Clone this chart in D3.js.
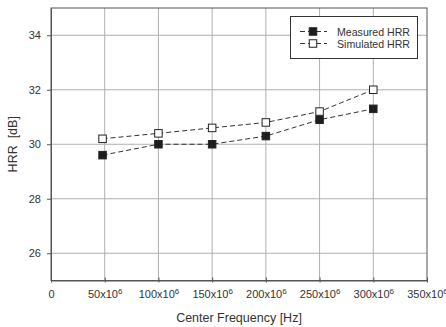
<!DOCTYPE html>
<html><head><meta charset="utf-8">
<script src="https://cdn.jsdelivr.net/npm/d3@7"></script>
<style>body{margin:0;background:#fff}svg{display:block}text{font-family:"Liberation Sans",Arial,sans-serif;fill:#333}</style>
</head><body><svg id="c" width="446" height="327"></svg>
<script>
const freq = [48, 100, 150, 200, 250, 300];
const measured = [29.6, 30.0, 30.0, 30.3, 30.9, 31.3];
const simulated = [30.2, 30.4, 30.6, 30.8, 31.2, 32.0];
const xTicks = [0, 50, 100, 150, 200, 250, 300, 350];
const yTicks = [26, 28, 30, 32, 34];
const seriesNames = ["Measured HRR", "Simulated HRR"];

const svg = d3.select("#c");
const m = {l: 51, r: 427, t: 8, b: 280.5};
const x = d3.scaleLinear().domain([0, 350]).range([m.l, m.r]);
const y = d3.scaleLinear().domain([25, 35]).range([m.b, m.t]);

// grid
const g = svg.append("g");
g.selectAll(".vg").data(xTicks.slice(1, -1)).join("line")
  .attr("x1", d => x(d)).attr("x2", d => x(d)).attr("y1", m.t).attr("y2", m.b)
  .attr("stroke", "#b0b0b0").attr("stroke-width", 1);
g.selectAll(".hg").data(yTicks).join("line")
  .attr("y1", d => y(d)).attr("y2", d => y(d)).attr("x1", m.l).attr("x2", m.r)
  .attr("stroke", "#b0b0b0").attr("stroke-width", 1);
// frame
svg.append("rect").attr("x", m.l).attr("y", m.t).attr("width", m.r - m.l).attr("height", m.b - m.t)
  .attr("fill", "none").attr("stroke", "#555").attr("stroke-width", 1);

// axes
const xAxis = d3.axisBottom(x).tickValues(xTicks).tickSizeInner(3).tickSizeOuter(0).tickPadding(7)
  .tickFormat(() => "");
const xa = svg.append("g").attr("transform", `translate(0,${m.b})`).call(xAxis);
xa.select(".domain").attr("stroke", "#555");
xa.selectAll(".tick line").attr("stroke", "#555").attr("y1", -3).attr("y2", 2);
xa.selectAll(".tick").each(function(d) {
  const t = d3.select(this).append("text").attr("y", 17).attr("text-anchor", "middle")
    .attr("font-size", 11).attr("fill", "#333");
  if (d === 0) { t.text("0"); }
  else {
    t.append("tspan").text(d + "x10");
    t.append("tspan").text("6").attr("font-size", 8).attr("dy", -4);
  }
});

const yAxis = d3.axisLeft(y).tickValues(yTicks).tickSizeInner(4).tickSizeOuter(0).tickPadding(6);
const ya = svg.append("g").attr("transform", `translate(${m.l},0)`).call(yAxis);
ya.select(".domain").attr("stroke", "#555");
ya.selectAll(".tick line").attr("stroke", "#555");
ya.selectAll(".tick text").attr("font-size", 11).attr("fill", "#333")
  .style("font-family", '"Liberation Sans",Arial,sans-serif');

// titles
svg.append("text").attr("x", (m.l + m.r) / 2).attr("y", 322).attr("text-anchor", "middle")
  .attr("font-size", 12.5).text("Center Frequency [Hz]");
svg.append("text").attr("transform", `translate(17,${(m.t + m.b) / 2}) rotate(-90)`)
  .attr("text-anchor", "middle").attr("font-size", 12.5).attr("xml:space", "preserve").text("HRR  [dB]");

// series
const line = d3.line().x((d, i) => x(freq[i])).y(d => y(d));
const series = [
  {vals: measured, fill: "#1e1e1e"},
  {vals: simulated, fill: "#fff"}
];
const ms = 7.5;
series.forEach(s => {
  svg.append("path").attr("d", line(s.vals)).attr("fill", "none")
    .attr("stroke", "#333").attr("stroke-width", 1).attr("stroke-dasharray", "5,3");
  svg.selectAll(null).data(s.vals).join("rect")
    .attr("x", (d, i) => x(freq[i]) - ms / 2).attr("y", d => y(d) - ms / 2)
    .attr("width", ms).attr("height", ms)
    .attr("fill", s.fill).attr("stroke", "#222").attr("stroke-width", 1);
});

// legend
const lg = svg.append("g");
lg.append("rect").attr("x", 290.5).attr("y", 16.5).attr("width", 127).attr("height", 42)
  .attr("fill", "#fff").attr("stroke", "#333").attr("stroke-width", 1);
seriesNames.forEach((n, i) => {
  const yy = 31.5 + i * 12;
  lg.append("line").attr("x1", 299).attr("x2", 327).attr("y1", yy).attr("y2", yy)
    .attr("stroke", "#333").attr("stroke-dasharray", "5,3").attr("stroke-dashoffset", -1);
  lg.append("rect").attr("x", 313 - ms / 2).attr("y", yy - ms / 2).attr("width", ms).attr("height", ms)
    .attr("fill", series[i].fill).attr("stroke", "#222");
  lg.append("text").attr("x", 337).attr("y", yy + 4).attr("font-size", 10.6).text(n);
});
</script></body></html>
